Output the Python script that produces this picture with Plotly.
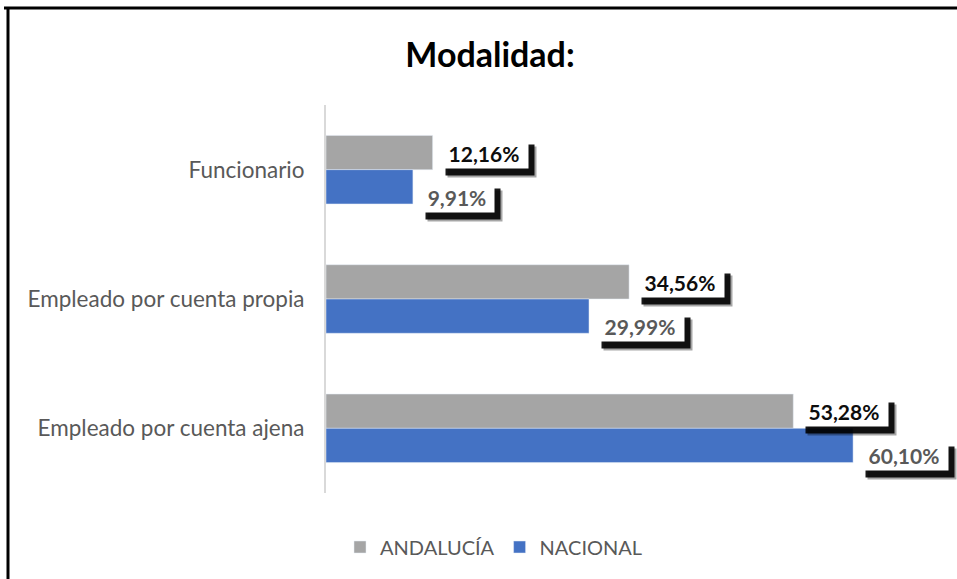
import plotly.graph_objects as go

# Data
categories = ["Funcionario", "Empleado por cuenta propia", "Empleado por cuenta ajena"]
andalucia = [12.16, 34.56, 53.28]
nacional = [9.91, 29.99, 60.10]
series_names = ["ANDALUCÍA", "NACIONAL"]

GRAY = "#a5a5a5"
BLUE = "#4472c4"
FONT = "Lato"

W, H = 957, 579
M_L, M_R, M_T, M_B = 326, 20, 105, 86
PW, PH = W - M_L - M_R, H - M_T - M_B


def fmt(v):
    return f"{v:.2f}".replace(".", ",") + "%"


fig = go.Figure()

fig.add_trace(go.Bar(
    y=categories, x=andalucia, name=series_names[0], orientation="h",
    marker=dict(color=GRAY), hoverinfo="skip",
))
fig.add_trace(go.Bar(
    y=categories, x=nacional, name=series_names[1], orientation="h",
    marker=dict(color=BLUE), hoverinfo="skip",
))

# Data labels: white boxes with a dark drop shadow
annotations = []
for values, yshift, color in [(andalucia, 17, "#0d0d0d"), (nacional, -27, "#595959")]:
    for cat, v in zip(categories, values):
        txt = fmt(v)
        bw = 14 * len(txt) + 4
        # soft outer shadow + darker core
        annotations.append(dict(
            x=v, y=cat, xref="x", yref="y", text=" ", showarrow=False,
            xanchor="left", yanchor="middle", xshift=14, yshift=yshift - 9,
            width=bw, height=30, bgcolor="rgba(0,0,0,0.35)", borderpad=0,
            font=dict(family=FONT, size=12, color="black"),
        ))
        annotations.append(dict(
            x=v, y=cat, xref="x", yref="y", text=" ", showarrow=False,
            xanchor="left", yanchor="middle", xshift=12, yshift=yshift - 7,
            width=bw, height=30, bgcolor="rgba(0,0,0,0.9)", borderpad=0,
            font=dict(family=FONT, size=12, color="black"),
        ))
        # white box
        annotations.append(dict(
            x=v, y=cat, xref="x", yref="y", text="<b>" + txt + "</b>",
            showarrow=False, xanchor="left", yanchor="middle",
            xshift=6, yshift=yshift, width=bw, height=30,
            bgcolor="white", borderpad=0,
            font=dict(family=FONT, size=21, color=color),
        ))

# Outer frame (top and left edges visible in the crop)
shapes = [
    dict(type="line", xref="paper", yref="paper",
         x0=(4 - M_L) / PW, x1=(W + 10 - M_L) / PW,
         y0=1 + (M_T - 8) / PH, y1=1 + (M_T - 8) / PH,
         line=dict(color="black", width=3)),
    dict(type="line", xref="paper", yref="paper",
         x0=(8 - M_L) / PW, x1=(8 - M_L) / PW,
         y0=1 + (M_T - 7) / PH, y1=-(M_B + 10) / PH,
         line=dict(color="black", width=3)),
]

fig.update_layout(
    width=W, height=H,
    margin=dict(l=M_L, r=M_R, t=M_T, b=M_B),
    paper_bgcolor="white", plot_bgcolor="white",
    barmode="group", bargap=0.47, bargroupgap=0,
    title=dict(text="<b>Modalidad:</b>", x=0.512, xanchor="center",
               y=1 - 55 / H, yanchor="middle",
               font=dict(family=FONT, size=34, color="black")),
    legend=dict(orientation="h", x=(494 - M_L) / PW, xanchor="center",
                y=-(547 - (H - M_B)) / PH, yanchor="middle",
                font=dict(family=FONT, size=20, color="#595959"),
                itemwidth=30, traceorder="normal"),
    annotations=annotations,
    shapes=shapes,
    font=dict(family=FONT),
)

fig.update_xaxes(range=[0, PW / 8.77], visible=False,
                 showgrid=False, zeroline=False)
fig.update_yaxes(autorange="reversed", showline=True, linecolor="#d9d9d9",
                 linewidth=2, ticks="", ticklabelstandoff=15,
                 tickfont=dict(family=FONT, size=22.5, color="#595959"),
                 showgrid=False)

fig.write_html("out.html", config={"displayModeBar": False},
               post_script="document.body.style.margin='0';")
